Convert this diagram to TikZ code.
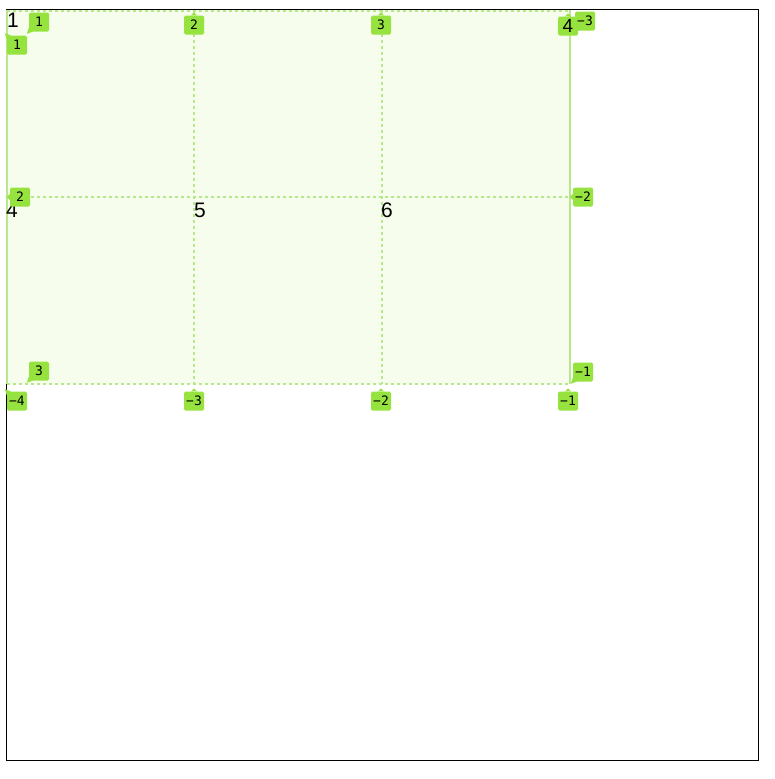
\documentclass[tikz,border=0pt]{standalone}
\usepackage{fontspec}
\setmainfont{Liberation Sans}
\newfontfamily\tagfont{DejaVu Sans Mono}
\usetikzlibrary{positioning}

\definecolor{gridline}{RGB}{184,232,140}
\definecolor{gridfill}{RGB}{246,253,236}
\definecolor{tagfill}{RGB}{150,226,62}

\tikzset{
  cell/.style={anchor=north west, inner sep=0pt, font=\fontsize{21}{21}\selectfont},
  tag/.style={fill=tagfill, rounded corners=1.5pt, minimum width=20pt, minimum height=19pt,
    inner sep=1pt, font=\tagfont\fontsize{13}{13}\selectfont},
}
% small pointer of a tag: node, anchor
\newcommand{\ptrup}[1]{\fill[tagfill] ([xshift=-3pt]#1.north) -- ([yshift=3pt]#1.north) -- ([xshift=3pt]#1.north) -- cycle;}
\newcommand{\ptrleft}[1]{\fill[tagfill] ([yshift=-3pt]#1.west) -- ([xshift=-3pt]#1.west) -- ([yshift=3pt]#1.west) -- cycle;}
\newcommand{\ptrnw}[1]{\fill[tagfill] ([xshift=4pt]#1.north west) -- ([xshift=-2pt,yshift=2pt]#1.north west) -- ([yshift=-4pt]#1.north west) -- cycle;}
\newcommand{\ptrsw}[1]{\fill[tagfill] ([xshift=4pt]#1.south west) -- ([xshift=-2pt,yshift=-2pt]#1.south west) -- ([yshift=4pt]#1.south west) -- cycle;}

\begin{document}
\begin{tikzpicture}[x=1pt, y=-1pt]
  \useasboundingbox (0,0) rectangle (775,779);
  \draw[line width=0.8pt] (6,9) rectangle (758,760);

  % grid
  \coordinate (nw) at (7,10);
  \coordinate (se) at (570,384);
  \fill[gridfill] (nw) rectangle (se);
  \draw[gridline, dashed, line width=1.1pt] (7,11) -- (570,11);
  \draw[gridline, dashed, line width=1.1pt] (7,384) -- (570,384);
  \draw[gridline, dashed, line width=1.1pt] (7,197) -- (570,197);
  \draw[gridline, dashed, line width=1.1pt] (194,10) -- (194,384);
  \draw[gridline, dashed, line width=1.1pt] (382,10) -- (382,384);
  \draw[gridline, line width=1.4pt] (7,10) -- (7,384);
  \draw[gridline, line width=1.4pt] (570,10) -- (570,384);

  % cell texts
  \node[cell] (c1) at (7,13) {1};
  \node[cell] (c4) at (6,203) {4};
  \node[cell] (c5) at (194,203) {5};
  \node[cell] (c6) at (381,203) {6};

  % tags
  \node[tag] (a1) at (39,22) {1};
  \node[tag] (l1) at (17,45) {1};
  \node[tag] (t2) at (194,25) {2};
  \node[tag] (t3) at (381,25) {3};
  \node[tag, font=\fontsize{19}{19}\selectfont] (t4) at (568,26) {4};
  \node[tag] (rm3) at (585,21) {−3};
  \node[tag] (l2) at (20,197) {2};
  \node[tag] (rm2) at (583,197) {−2};
  \node[tag] (b3) at (39,371) {3};
  \node[tag] (rm1) at (583,372) {−1};
  \node[tag] (bm4) at (17,401) {−4};
  \node[tag] (bm3) at (194,401) {−3};
  \node[tag] (bm2) at (381,401) {−2};
  \node[tag] (bm1) at (568,401) {−1};

  \ptrsw{a1}
  \ptrnw{l1}
  \ptrup{t2}
  \ptrup{t3}
  \ptrup{t4}
  \ptrsw{rm3}
  \ptrleft{l2}
  \ptrleft{rm2}
  \ptrsw{b3}
  \ptrsw{rm1}
  \ptrnw{bm4}
  \ptrup{bm3}
  \ptrup{bm2}
  \ptrup{bm1}
\end{tikzpicture}
\end{document}
